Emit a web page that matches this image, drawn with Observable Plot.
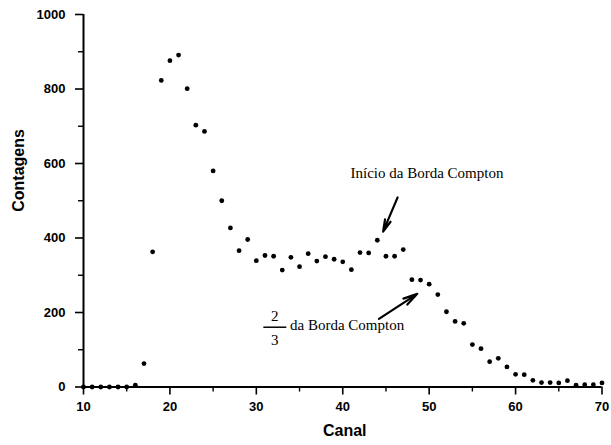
<!DOCTYPE html>
<html>
<head>
<meta charset="utf-8">
<script src="https://cdn.jsdelivr.net/npm/d3@7"></script>
<script src="https://cdn.jsdelivr.net/npm/@observablehq/plot@0.6"></script>
<style>
  html, body { margin: 0; padding: 0; background: #fff; }
  #chart svg { display: block; }
</style>
</head>
<body>
<div id="chart"></div>
<script>
// Gamma spectrum: counts per channel
const channels = [10, 11, 12, 13, 14, 15, 16, 17, 18, 19, 20, 21, 22, 23, 24, 25, 26, 27, 28, 29,
  30, 31, 32, 33, 34, 35, 36, 37, 38, 39, 40, 41, 42, 43, 44, 45, 46, 47, 48, 49,
  50, 51, 52, 53, 54, 55, 56, 57, 58, 59, 60, 61, 62, 63, 64, 65, 66, 67, 68, 69, 70];
const counts = [0, 0, 0, 0, 0, 0, 5, 63, 363, 823, 876, 891, 801, 703, 686, 580, 500, 427, 366, 396,
  339, 353, 351, 314, 348, 323, 358, 338, 350, 343, 336, 315, 361, 360, 394, 351, 351, 369, 288, 287,
  276, 248, 202, 176, 171, 114, 103, 68, 77, 54, 34, 33, 18, 12, 12, 11, 17, 5, 6, 6, 11];

// Axis ticks
const xMajorTicks = [10, 20, 30, 40, 50, 60, 70];
const xMinorTicks = [15, 25, 35, 45, 55, 65];
const yMajorTicks = [0, 200, 400, 600, 800, 1000];
const yMinorTicks = [100, 300, 500, 700, 900];

// Annotation labels and arrows (data coordinates)
const edgeStartLabel = [{x: 40.9, y: 575, text: "Início da Borda Compton"}];
const edgeStartArrow = [{x1: 46.35, y1: 509, x2: 44.67, y2: 417}];
const twoThirdsDigits = [{x: 32.12, y: 190, text: "2"}, {x: 32.12, y: 126, text: "3"}];
const twoThirdsBar = [{x1: 30.81, x2: 33.47, y: 160.5}];
const twoThirdsLabel = [{x: 33.9, y: 165, text: "da Borda Compton"}];
const twoThirdsArrow = [{x1: 44.19, y1: 183, x2: 48.63, y2: 250}];

const data = channels.map((c, i) => ({canal: c, contagens: counts[i]}));

const serif = "'Liberation Serif', 'Times New Roman', serif";
const plain = (d) => String(d);

const chart = Plot.plot({
  width: 611,
  height: 445,
  marginLeft: 83,
  marginRight: 9.5,
  marginTop: 14,
  marginBottom: 58.5,
  style: {fontFamily: "'Liberation Sans', Arial, sans-serif", fontSize: "13px", fontWeight: "bold", color: "#000", background: "#fff"},
  x: {domain: [10, 70]},
  y: {domain: [0, 1000]},
  marks: [
    Plot.axisX({ticks: xMajorTicks, tickFormat: plain, tickSize: 8, tickPadding: 7, strokeWidth: 1.6, label: null}),
    Plot.axisX({ticks: xMinorTicks, tickSize: 5, strokeWidth: 1.4, text: null, label: null}),
    Plot.axisY({ticks: yMajorTicks, tickFormat: plain, tickSize: 8, tickPadding: 10, strokeWidth: 1.6, label: null}),
    Plot.axisY({ticks: yMinorTicks, tickSize: 5, strokeWidth: 1.4, text: null, label: null}),
    Plot.ruleX([10], {stroke: "#000", strokeWidth: 2}),
    Plot.ruleY([0], {stroke: "#000", strokeWidth: 2}),
    Plot.text(["Canal"], {frameAnchor: "bottom", dy: 48.5, dx: 2, fontSize: 16, fontWeight: "bold"}),
    Plot.text(["Contagens"], {frameAnchor: "left", rotate: -90, dx: -65, dy: 11, fontSize: 16, fontWeight: "bold"}),
    Plot.dot(data, {x: "canal", y: "contagens", r: 2.4, fill: "#000", stroke: "none"}),
    Plot.text(edgeStartLabel, {x: "x", y: "y", text: "text", textAnchor: "start", fontFamily: serif, fontSize: 15, fontWeight: "normal"}),
    Plot.arrow(edgeStartArrow, {x1: "x1", y1: "y1", x2: "x2", y2: "y2", stroke: "#000", strokeWidth: 2.2, headLength: 10, headAngle: 28}),
    Plot.text(twoThirdsDigits, {x: "x", y: "y", text: "text", fontFamily: serif, fontSize: 15, fontWeight: "normal"}),
    Plot.link(twoThirdsBar, {x1: "x1", x2: "x2", y1: "y", y2: "y", stroke: "#000", strokeWidth: 1.5}),
    Plot.text(twoThirdsLabel, {x: "x", y: "y", text: "text", textAnchor: "start", fontFamily: serif, fontSize: 15, fontWeight: "normal"}),
    Plot.arrow(twoThirdsArrow, {x1: "x1", y1: "y1", x2: "x2", y2: "y2", stroke: "#000", strokeWidth: 2.2, headLength: 10, headAngle: 28})
  ]
});

document.getElementById("chart").appendChild(chart);
</script>
</body>
</html>
